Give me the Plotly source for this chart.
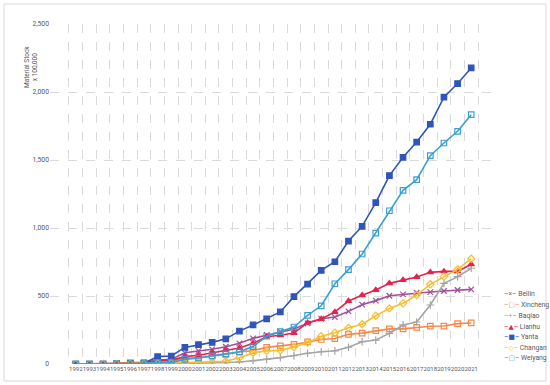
import plotly.graph_objects as go

years = [str(y) for y in range(1992, 2022)]

beilin = [0, 0, 0, 2, 5, 8, 29, 34, 83, 96, 108, 127, 152, 189, 213, 238, 257, 299, 333, 345,
          387, 436, 466, 502, 512, 524, 529, 537, 544, 549]
xincheng = [0, 0, 0, 5, 10, 12, 17, 18, 42, 47, 59, 70, 88, 98, 122, 134, 144, 162, 180, 187,
            218, 227, 245, 258, 258, 270, 278, 279, 297, 302]
baqiao = [0, 0, 0, 0, 0, 0, 2, 3, 5, 6, 8, 10, 15, 24, 34, 47, 62, 79, 90, 97,
          123, 164, 176, 225, 287, 309, 434, 593, 642, 704]
lianhu = [0, 0, 0, 2, 4, 6, 27, 27, 54, 64, 82, 103, 118, 152, 201, 211, 228, 304, 331, 383,
          463, 505, 544, 593, 618, 640, 674, 681, 681, 733]
yanta = [0, 0, 0, 2, 4, 5, 54, 59, 122, 142, 159, 185, 242, 287, 332, 383, 495, 588, 688, 752,
         904, 1012, 1186, 1385, 1520, 1632, 1763, 1962, 2062, 2177]
changan = [0, 0, 0, 0, 2, 3, 5, 7, 10, 12, 14, 20, 46, 83, 96, 100, 125, 157, 204, 230,
           266, 292, 355, 409, 446, 507, 586, 642, 696, 774]
weiyang = [0, 0, 0, 1, 2, 3, 10, 10, 34, 44, 60, 74, 90, 128, 204, 238, 272, 358, 428, 590,
           694, 809, 963, 1127, 1277, 1355, 1532, 1625, 1711, 1833]

series = [
    ("Beilin", beilin, "#A0509A", "x-thin", "\u00d7"),
    ("Xincheng", xincheng, "#F4894B", "square-open", "\u25a1"),
    ("Baqiao", baqiao, "#A5A5A5", "cross-thin", "+"),
    ("Lianhu", lianhu, "#E8224C", "triangle-up", "\u25b2"),
    ("Yanta", yanta, "#2F55BB", "square", "\u25a0"),
    ("Changan", changan, "#F7BE2E", "diamond-open", "\u25c7"),
    ("Weiyang", weiyang, "#3A9FD2", "square-open", "\u25a1"),
]

fig = go.Figure()
for name, vals, color, sym, glyph in series:
    fig.add_trace(go.Scatter(
        x=years, y=vals, name=name, mode="lines+markers", showlegend=False,
        line=dict(color=color, width=1.6),
        marker=dict(symbol=sym, size=5.5, color=color,
                    line=dict(color=color, width=1.2)),
    ))

# plot area geometry (px) used only for placing layout text
L, R, T, B = 50, 497, 24, 364
W, H = R - L, B - T


def px_x(p):
    return (p - L) / W


def px_y(p):
    return (B - p) / H


legend_rows = [294, 305, 316, 326.5, 337, 347.5, 358]
annotations = [dict(text="Material Stock<br>x 100,000", xref="paper", yref="paper",
                    x=px_x(21), y=px_y(44), textangle=-90, showarrow=False,
                    font=dict(size=6.5, color="#595959"))]
for (name, vals, color, sym, glyph), ry in zip(series, legend_rows):
    annotations.append(dict(
        text=f"<span style='color:{color}'>\u2013{glyph}\u2013</span> {name}",
        xref="paper", yref="paper", x=px_x(502), y=px_y(ry),
        xanchor="left", yanchor="middle", showarrow=False,
        font=dict(size=6.8, color="#595959")))

font_fam = "Roboto, 'DejaVu Sans', sans-serif"
fig.update_layout(
    width=550, height=385,
    margin=dict(l=L, r=550 - R, t=T, b=385 - B, autoexpand=False),
    paper_bgcolor="white", plot_bgcolor="white",
    font=dict(family=font_fam, size=6.5, color="#595959"),
    showlegend=False,
    xaxis=dict(type="category", tickson="boundaries", showgrid=True,
               gridcolor="#DADADA", griddash="dash", gridwidth=1,
               ticks="", tickangle=0, tickfont=dict(size=6, color="#595959"),
               showline=False, zeroline=False),
    yaxis=dict(range=[0, 2500], dtick=500, tickformat=",", showgrid=True,
               gridcolor="#DADADA", griddash="dash", gridwidth=1,
               ticks="", tickfont=dict(size=6.8, color="#595959"),
               zeroline=False, showline=False),
    shapes=[dict(type="rect", xref="paper", yref="paper",
                 x0=px_x(4), x1=px_x(546), y0=px_y(381), y1=px_y(4),
                 line=dict(color="#D9D9D9", width=1), fillcolor="rgba(0,0,0,0)")],
    annotations=annotations,
)

fig.write_html("out.html", config={"displayModeBar": False},
               post_script="document.body.style.margin='0';document.body.style.overflow='hidden';")
